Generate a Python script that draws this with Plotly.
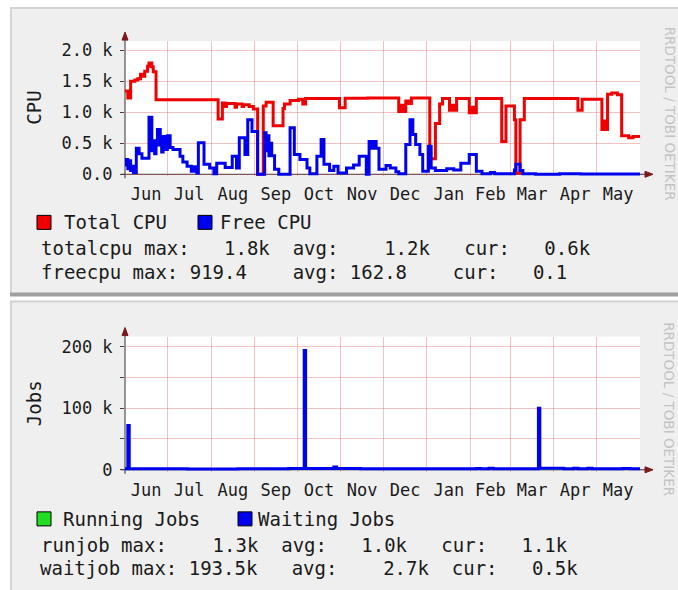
import plotly.graph_objects as go

# ---------------- data ----------------
total_dates = ["2012-06-01", "2012-06-03", "2012-06-05", "2012-06-08", "2012-06-10", "2012-06-12",
               "2012-06-14", "2012-06-15", "2012-06-17", "2012-06-18", "2012-06-20", "2012-06-21",
               "2012-06-23", "2012-08-06", "2012-08-09", "2012-08-11", "2012-08-12", "2012-08-18",
               "2012-08-19", "2012-08-23", "2012-08-24", "2012-08-28", "2012-08-31", "2012-09-03",
               "2012-09-07", "2012-09-09", "2012-09-14", "2012-09-21", "2012-09-22", "2012-09-26",
               "2012-10-02", "2012-10-05", "2012-10-07", "2012-10-31", "2012-11-04", "2012-11-20",
               "2012-12-12", "2012-12-14", "2012-12-15", "2012-12-17", "2012-12-19", "2012-12-21",
               "2013-01-03", "2013-01-07", "2013-01-10", "2013-01-12", "2013-01-17", "2013-01-19",
               "2013-01-20", "2013-01-22", "2013-01-31", "2013-02-02", "2013-02-03", "2013-02-05",
               "2013-02-23", "2013-02-26", "2013-03-04", "2013-03-05", "2013-03-08", "2013-03-11",
               "2013-04-18", "2013-04-21", "2013-05-05", "2013-05-07", "2013-05-08", "2013-05-09",
               "2013-05-12", "2013-05-16", "2013-05-19", "2013-05-24", "2013-05-27", "2013-06-01"]
total_cpu = [1340, 1230, 1500, 1520, 1540, 1610,
             1580, 1660, 1740, 1790, 1730, 1650,
             1200, 890, 1150, 1090, 1140, 1080,
             1130, 1090, 1120, 1090, 1050, 0,
             1100, 1160, 780, 1060, 1130, 1190,
             1210, 1130, 1220, 1070, 1225, 1230,
             1010, 1110, 1010, 1180, 1140, 1230,
             250, 820, 1130, 1220, 1030, 1110,
             1030, 1220, 990, 1080, 990, 1220,
             530, 1100, 880, 20, 880, 1220,
             1030, 1210, 720, 860, 720, 1290,
             1310, 1280, 620, 590, 610, 620]

free_dates = ["2012-06-01", "2012-06-02", "2012-06-03", "2012-06-04", "2012-06-05", "2012-06-06",
              "2012-06-07", "2012-06-09", "2012-06-11", "2012-06-13", "2012-06-18", "2012-06-20",
              "2012-06-21", "2012-06-22", "2012-06-23", "2012-06-24", "2012-06-26", "2012-06-27",
              "2012-06-28", "2012-06-29", "2012-07-01", "2012-07-03", "2012-07-05", "2012-07-10",
              "2012-07-12", "2012-07-15", "2012-07-18", "2012-07-20", "2012-07-22", "2012-07-23",
              "2012-07-27", "2012-07-31", "2012-08-03", "2012-08-05", "2012-08-11", "2012-08-16",
              "2012-08-19", "2012-08-21", "2012-08-25", "2012-08-27", "2012-08-30", "2012-09-03",
              "2012-09-08", "2012-09-09", "2012-09-10", "2012-09-11", "2012-09-12", "2012-09-13",
              "2012-09-15", "2012-09-18", "2012-09-26", "2012-09-29", "2012-10-03", "2012-10-08",
              "2012-10-10", "2012-10-15", "2012-10-18", "2012-10-20", "2012-10-24", "2012-10-27",
              "2012-10-30", "2012-11-05", "2012-11-10", "2012-11-14", "2012-11-19", "2012-11-21",
              "2012-11-23", "2012-11-25", "2012-11-26", "2012-11-28", "2012-12-03", "2012-12-06",
              "2012-12-10", "2012-12-12", "2012-12-17", "2012-12-20", "2012-12-22", "2012-12-24",
              "2012-12-27", "2012-12-29", "2013-01-02", "2013-01-04", "2013-01-07", "2013-01-15",
              "2013-01-20", "2013-01-25", "2013-01-31", "2013-02-05", "2013-02-09", "2013-02-15",
              "2013-02-18", "2013-03-04", "2013-03-05", "2013-03-08", "2013-03-10", "2013-03-19",
              "2013-04-05", "2013-04-20", "2013-06-01"]
free_cpu = [150, 240, 90, 220, 60, 130,
            30, 420, 330, 260, 919, 380,
            540, 330, 470, 720, 470, 360,
            610, 400, 620, 430, 400, 290,
            200, 130, 50, 120, 20, 510,
            160, 100, 10, 180, 110, 290,
            100, 590, 320, 880, 690, 0,
            670, 380, 620, 300, 500, 300,
            80, 0, 750, 320, 240, 100,
            10, 290, 560, 160, 60, 130,
            20, 100, 150, 290, 0, 530,
            420, 530, 420, 80, 140, 100,
            40, 10, 480, 880, 640, 480,
            320, 50, 450, 100, 60, 90,
            70, 180, 320, 50, 10, 30,
            10, 70, 160, 60, 10, 0,
            10, 5, 0.1]

run_dates = ["2012-06-01", "2012-08-01", "2012-10-01", "2012-12-01", "2013-02-01", "2013-04-01", "2013-06-01"]
running_jobs = [900, 1100, 1300, 950, 1000, 1200, 1100]

wait_dates = ["2012-06-01", "2012-06-03", "2012-06-04", "2012-07-15", "2012-08-20", "2012-09-25",
              "2012-10-06", "2012-10-07", "2012-10-27", "2012-10-29", "2012-11-15", "2012-12-20",
              "2013-01-20", "2013-02-05", "2013-02-08", "2013-02-14", "2013-02-17", "2013-03-10",
              "2013-03-21", "2013-03-22", "2013-04-08", "2013-04-15", "2013-04-18", "2013-04-25",
              "2013-04-28", "2013-05-20", "2013-05-25", "2013-06-01"]
waiting_jobs = [1500, 72000, 1600, 1400, 1700, 2000,
                193500, 1900, 4500, 2000, 1700, 1500,
                1800, 2300, 1600, 2600, 1600, 1500,
                100000, 2500, 1800, 2400, 1600, 2600,
                1800, 2200, 1500, 1500]

cpu_tickvals = [0, 500, 1000, 1500, 2000]
cpu_ticktext = ["0.0", "0.5 k", "1.0 k", "1.5 k", "2.0 k"]
jobs_tickvals = [0, 50000, 100000, 150000, 200000]
jobs_ticktext = ["0", "", "100 k", "", "200 k"]

cpu_legend = ["Total CPU", "Free CPU"]
jobs_legend = ["Running Jobs", "Waiting Jobs"]
cpu_stats = ["totalcpu max:   1.8k  avg:    1.2k   cur:   0.6k",
             "freecpu max: 919.4    avg: 162.8    cur:   0.1"]
jobs_stats = ["runjob max:    1.3k  avg:   1.0k   cur:   1.1k",
              "waitjob max: 193.5k   avg:    2.7k  cur:   0.5k"]
watermark = "RRDTOOL / TOBI OETIKER"

# ---------------- styling ----------------
# layout designed in 678x590 reference pixels; page height 600 to fill the captured area
W, H = 678, 590
PAGE_H = 600
RED, BLUE, GREEN = "#f00000", "#0000f0", "#22dd22"
GRID = "rgba(215,80,80,0.35)"
MONO = "DejaVu Sans Mono"
TXT = "#1a1a1a"
PANEL = "#efefef"


def PX(x):
    return x / W


def PY(y):
    return 1 - y / H


def nb(s):
    return s.replace(" ", "\u00a0")


fig = go.Figure()
fig.add_trace(go.Scatter(x=total_dates, y=total_cpu, mode="lines",
                         line=dict(color=RED, width=3, shape="hv"), xaxis="x", yaxis="y"))
fig.add_trace(go.Scatter(x=free_dates, y=free_cpu, mode="lines",
                         line=dict(color=BLUE, width=3, shape="hv"), xaxis="x", yaxis="y"))
fig.add_trace(go.Scatter(x=run_dates, y=running_jobs, mode="lines",
                         line=dict(color=GREEN, width=1.5, shape="hv"), xaxis="x2", yaxis="y2"))
fig.add_trace(go.Scatter(x=wait_dates, y=waiting_jobs, mode="lines",
                         line=dict(color=BLUE, width=3, shape="hv"), xaxis="x2", yaxis="y2"))

xcommon = dict(type="date", range=["2012-06-01", "2013-06-01"], dtick="M1", tick0="2012-06-01",
               tickformat="%b", ticklabelmode="period", showgrid=True, gridcolor=GRID, gridwidth=1,
               ticks="", showline=False, zeroline=False, fixedrange=True,
               tickfont=dict(family=MONO, size=17, color=TXT), ticklabelstandoff=6)
ycommon = dict(showgrid=True, gridcolor=GRID, gridwidth=1, ticks="outside", ticklen=4,
               tickcolor="#404040", showline=False, zeroline=False, fixedrange=True,
               tickfont=dict(family=MONO, size=17, color=TXT), ticklabelstandoff=4)

shapes = []


def rect(x0, y0, x1, y1, fill, line=None, layer="below"):
    d = dict(type="rect", xref="paper", yref="paper", x0=PX(x0), x1=PX(x1), y0=PY(y1), y1=PY(y0),
             fillcolor=fill, layer=layer, line=dict(width=0))
    if line:
        d["line"] = dict(color=line, width=1)
    shapes.append(d)


def seg(x0, y0, x1, y1, color, width=1, layer="below"):
    shapes.append(dict(type="line", xref="paper", yref="paper", x0=PX(x0), x1=PX(x1), y0=PY(y0),
                       y1=PY(y1), line=dict(color=color, width=width), layer=layer))


def tri(points, color, layer="below"):
    path = "M " + " L ".join(f"{PX(x)},{PY(y)}" for x, y in points) + " Z"
    shapes.append(dict(type="path", xref="paper", yref="paper", path=path, fillcolor=color,
                       line=dict(color=color, width=1), layer=layer))


# panels
rect(10, 6, 678, 292, PANEL)
rect(10, 6, 678, 8, "#d4d4d4")
rect(10, 6, 12, 292, "#d4d4d4")
rect(10, 291, 678, 295, "#a0a0a0")
rect(10, 299, 678, 590, PANEL)
rect(10, 299, 678, 301, "#d4d4d4")
rect(10, 299, 12, 590, "#d4d4d4")

annotations = []
for off in (0, 295):
    # canvas
    rect(125, 40 + off, 640, 173 + off, "#ffffff")
    # axes
    seg(125, 177 + off, 125, 36 + off, "#303030")
    tri([(125, 31 + off), (122, 39 + off), (128, 39 + off)], "#7a1a1a")
    seg(121, 173 + off, 646, 173 + off, "#303030")
    tri([(653, 173 + off), (645, 170 + off), (645, 176 + off)], "#7a1a1a")
    annotations.append(dict(xref="paper", yref="paper", x=PX(669.5), y=PY(112 + off), text=watermark,
                            textangle=90, showarrow=False, xanchor="center", yanchor="middle",
                            font=dict(family="DejaVu Sans", size=13.5, color="#c4c4c4")))

# legend boxes
rect(37, 214, 51, 228, RED, "#000000", "above")
rect(198, 214, 212, 228, BLUE, "#000000", "above")
rect(37, 510, 51, 524, GREEN, "#000000", "above")
rect(238, 510, 252, 524, BLUE, "#000000", "above")


def label(x, y, text, size=19, angle=0, anchor="left"):
    annotations.append(dict(xref="paper", yref="paper", x=PX(x), y=PY(y), text=nb(text),
                            textangle=angle, showarrow=False, xanchor=anchor, yanchor="middle",
                            font=dict(family=MONO, size=size, color=TXT)))


label(34, 106.5, "CPU", angle=-90, anchor="center")
label(34, 401.5, "Jobs", angle=-90, anchor="center")
label(62, 221, cpu_legend[0])
label(218, 221, cpu_legend[1])
label(39, 247, cpu_stats[0])
label(39, 271, cpu_stats[1])
label(61, 517, jobs_legend[0])
label(256, 517, jobs_legend[1])
label(39, 543, jobs_stats[0])
label(38, 566, jobs_stats[1])

fig.update_layout(
    width=W, height=PAGE_H, autosize=False, margin=dict(l=0, r=0, t=0, b=0, pad=0),
    paper_bgcolor="#ffffff", plot_bgcolor="rgba(0,0,0,0)", showlegend=False,
    xaxis=dict(xcommon, domain=[PX(125), PX(640)], anchor="y"),
    xaxis2=dict(xcommon, domain=[PX(125), PX(640)], anchor="y2"),
    yaxis=dict(ycommon, domain=[PY(175), PY(40)], range=[-32, 2145],
               tickvals=cpu_tickvals, ticktext=cpu_ticktext),
    yaxis2=dict(ycommon, domain=[PY(470), PY(335)], range=[-3252, 216260],
                tickvals=jobs_tickvals, ticktext=jobs_ticktext),
    shapes=shapes, annotations=annotations,
)

fig.write_html("out.html", config={"displayModeBar": False},
               post_script="document.body.style.margin='0';document.body.style.overflow='hidden';")
